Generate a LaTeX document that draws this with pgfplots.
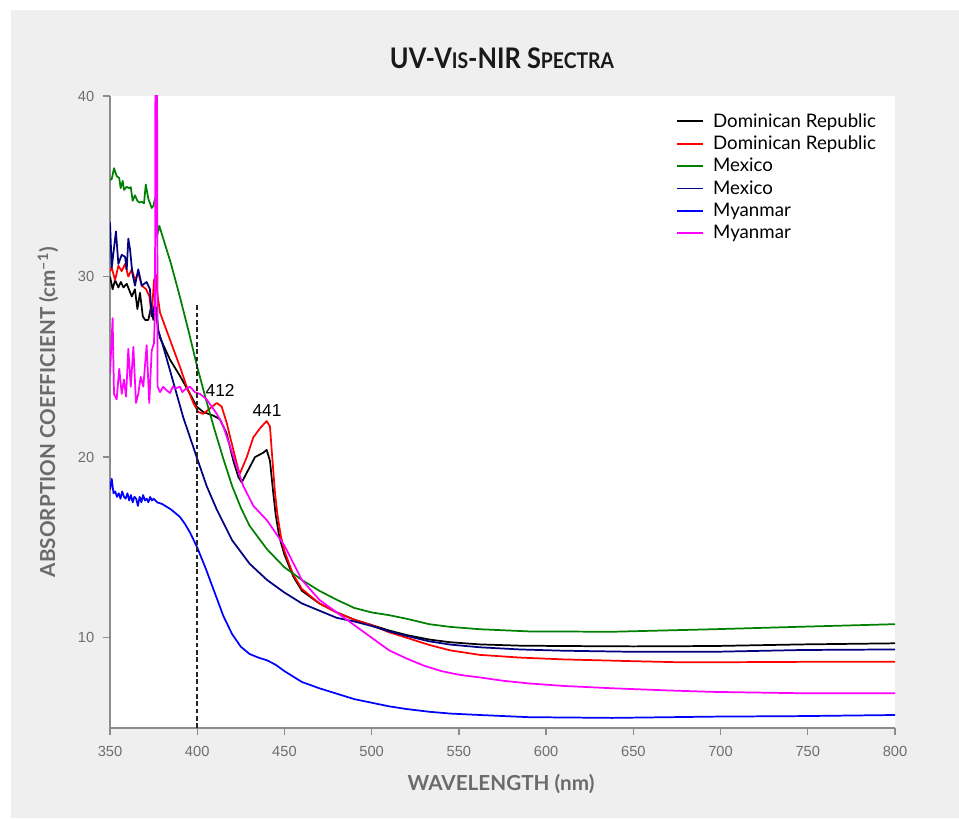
\documentclass[border=0pt]{standalone}
\usepackage{fontspec}
\setmainfont{Liberation Sans}
\newfontfamily\lato{Lato}
\usepackage{pgfplots}
\pgfplotsset{compat=1.18}
\definecolor{panel}{HTML}{EFEFEF}
\definecolor{axisgray}{HTML}{8C8C8C}
\definecolor{tickgray}{HTML}{6E6E6E}
\definecolor{labelgray}{HTML}{6B6B6B}
\definecolor{mxgreen}{HTML}{008000}
\definecolor{mxnavy}{HTML}{000080}
\definecolor{mymag}{HTML}{FF00FF}
\definecolor{myblue}{HTML}{0000FF}
\definecolor{dred}{HTML}{FF0000}
\begin{document}
\begin{tikzpicture}
\fill[white] (0,0) rectangle (719.25pt,613.5pt);
\fill[panel] (8.25pt,0) rectangle (719.25pt,606pt);
\node[font=\lato\bfseries\fontsize{19}{21}\selectfont, text=black!90, yscale=1.12] at (376.5pt,570pt) {UV-V{\fontsize{14.5}{16}\selectfont IS}-NIR S{\fontsize{14.5}{16}\selectfont PECTRA}};
\node[font=\lato\bfseries\fontsize{15.5}{18}\selectfont, text=labelgray] at (375.75pt,25.5pt) {WAVELENGTH (nm)};
\node[font=\lato\bfseries\fontsize{15.5}{18}\selectfont, text=labelgray, rotate=90] at (36pt,304.5pt) {ABSORPTION COEFFICIENT (cm\textsuperscript{–1})};
\begin{axis}[
  at={(82.5pt,67.5pt)}, anchor=south west,
  scale only axis, width=588.75pt, height=474pt,
  xmin=350, xmax=800, ymin=5, ymax=40,
  axis lines*=left,
  axis line style={axisgray, line width=1.1pt},
  tick style={axisgray, line width=1pt},
  major tick length=5.25pt, tick align=outside,
  xtick={350,400,...,800}, ytick={10,20,30,40},
  axis background/.style={fill=white},
  /pgf/number format/assume math mode=true,
  /pgf/number format/1000 sep={},
  tick label style={font=\fontsize{11}{13}\selectfont, text=tickgray},
  xticklabel style={yshift=-5pt},
  yticklabel style={xshift=-3pt},
  legend style={at={(0.721,0.973)}, anchor=north west, draw=none, fill=none,
    font=\lato\fontsize{14}{16}\selectfont, row sep=5.05pt, column sep=6.75pt,
    inner sep=0pt, nodes={inner sep=0pt}},
  legend cell align=left,
  legend image code/.code={\draw[#1, line width=1.4pt] (0pt,0pt) -- (19.5pt,0pt);},
  every axis plot/.append style={line width=1.3pt, line join=round},
]
\addplot[black] coordinates {(350,30.0)(351.5,29.3)(352.9,29.8)(354.8,29.4)(356.2,29.7)(357.7,29.4)(359.6,29.6)(362.5,28.9)(364.3,29.3)(365.7,28.2)(367.2,29.1)(368.8,27.8)(370.1,27.6)(372,27.6)(373.9,28.5)(374.8,27.6)(376.4,28.3)(377.7,27.0)(378.7,26.6)(384.4,25.4)(390.1,24.5)(395.9,23.5)(399.7,22.8)(403.5,22.5)(409.2,22.3)(413,22.1)(416.9,21.3)(420.7,19.8)(423.6,18.9)(425.5,18.6)(429.3,19.3)(433.1,20.0)(437.9,20.25)(439.8,20.4)(441.7,19.8)(443.6,18.0)(445,16.8)(447,15.6)(450,14.6)(455,13.4)(460,12.6)(470,11.9)(480,11.4)(490,11.0)(500,10.7)(510,10.4)(520,10.15)(533,9.9)(545,9.75)(562,9.63)(585,9.56)(610,9.54)(650,9.52)(696,9.54)(747,9.63)(800,9.69)};
\addlegendentry{Dominican Republic}
\addplot[dred] coordinates {(350,30.3)(351,30.5)(352.9,29.8)(354.8,30.6)(356.7,30.3)(358.6,30.7)(360.5,30.0)(362.5,30.4)(364.3,29.8)(366.2,30.2)(368.2,29.5)(370.7,29.3)(372.6,28.9)(373.9,27.8)(375.2,29.8)(376.4,30.1)(377.1,29.1)(378.7,28.0)(384.4,26.5)(390.1,25.0)(394,23.9)(397.8,23.0)(400.6,22.5)(403.5,22.4)(407.3,22.7)(411.2,23.0)(414,22.8)(416.9,21.9)(420.7,20.4)(423.6,19.3)(424.5,19.1)(428.4,20.0)(432.2,21.1)(436,21.6)(439.8,22.0)(441.7,21.7)(443,20.0)(444.6,18.0)(446,16.8)(448,15.6)(450,14.8)(455,13.5)(460,12.7)(470,11.9)(480,11.4)(490,11.0)(500,10.7)(510,10.3)(520,10.0)(533,9.6)(545,9.3)(562,9.05)(585,8.9)(610,8.8)(650,8.7)(677,8.64)(720,8.65)(760,8.67)(800,8.67)};
\addlegendentry{Dominican Republic}
\addplot[mxgreen] coordinates {(350,35.35)(351,35.4)(352.3,36.0)(353.8,35.57)(355.3,35.45)(356.1,34.9)(357.3,35.3)(358,34.8)(359.6,34.97)(360.9,34.9)(361.9,34.95)(363,34.2)(364.3,34.5)(365.7,34.2)(366.8,34.1)(368.2,34.15)(369.5,34.05)(370.5,35.1)(372,34.3)(373.9,33.8)(374.8,33.9)(375.8,34.3)(376.8,34.5)(377.1,32.3)(378.3,32.8)(385,30.7)(390,28.9)(395,27.0)(400,25.0)(405,23.2)(410,21.5)(415,19.9)(420,18.4)(425,17.2)(430,16.2)(440,14.9)(450,13.9)(460,13.2)(470,12.6)(480,12.1)(490,11.65)(500,11.4)(510,11.25)(520,11.05)(533,10.75)(545,10.6)(562,10.47)(590,10.35)(638,10.33)(696,10.47)(747,10.61)(800,10.75)};
\addlegendentry{Mexico}
\addplot[mxnavy] coordinates {(350,33.0)(351,30.5)(353.4,32.5)(354.8,30.7)(356.7,31.2)(358.6,31.1)(359.6,30.4)(360.5,32.1)(361.5,31.5)(362.8,30.2)(364.3,29.5)(366.2,30.4)(368.2,29.5)(371,29.7)(372.9,29.3)(373.9,27.8)(375.8,28.5)(377.7,27.0)(380,26.3)(384.4,24.8)(392,22.2)(399.7,20.0)(405.4,18.4)(411.2,17.1)(420,15.4)(430,14.1)(440,13.2)(450,12.5)(460,11.9)(470,11.5)(480,11.1)(490,10.9)(500,10.65)(510,10.35)(520,10.1)(533,9.8)(545,9.62)(562,9.47)(585,9.35)(610,9.28)(650,9.22)(696,9.22)(747,9.32)(800,9.35)};
\addlegendentry{Mexico}
\addplot[myblue] coordinates {(350,18.2)(351,18.8)(352,18.0)(353,18.1)(354,17.8)(355,18.0)(356,17.7)(357,18.1)(358,17.8)(359,17.7)(360,18.0)(361,17.6)(362,17.9)(363,17.5)(364,17.8)(365,17.7)(366,17.3)(367,17.8)(368,17.5)(369,17.9)(370,17.6)(371,17.7)(372,17.5)(373,17.8)(374,17.6)(375,17.7)(377,17.5)(380,17.4)(385,17.1)(390,16.7)(393,16.3)(396,15.8)(400,15.0)(405,13.8)(410,12.5)(415,11.2)(420,10.2)(425,9.5)(430,9.1)(435,8.9)(440,8.75)(445,8.5)(450,8.15)(460,7.55)(470,7.2)(480,6.9)(490,6.6)(500,6.4)(510,6.2)(520,6.05)(533,5.9)(545,5.8)(562,5.72)(590,5.6)(638,5.56)(696,5.63)(747,5.66)(800,5.72)};
\addlegendentry{Myanmar}
\addplot[mymag] coordinates {(350,24.6)(351.5,27.7)(352.3,23.5)(353.8,23.2)(355.3,24.9)(356.7,23.5)(358,24.3)(359.2,23.35)(360.5,26.0)(361.9,23.9)(363.4,26.1)(364.9,23.0)(366.2,23.5)(367.6,24.45)(369.1,23.9)(371,26.2)(372.5,23.0)(373.9,25.9)(375.2,26.3)(375.8,28.1)(376.1,45)(376.9,45)(377.3,23.9)(378.7,23.6)(380.5,23.9)(382.5,23.7)(384.4,23.55)(386,23.9)(387.3,23.8)(390.1,23.9)(391.5,23.6)(393,23.75)(395.9,23.9)(398.7,23.6)(401.6,23.5)(405.4,23.2)(408.3,22.8)(411.2,22.4)(415,21.7)(418.8,20.6)(422.6,19.5)(426.4,18.4)(432.2,17.3)(440,16.5)(450,15.1)(460,13.2)(470,12.1)(480,11.4)(490,10.7)(500,10.0)(510,9.3)(520,8.85)(530,8.45)(540,8.15)(550,7.95)(562,7.8)(575,7.62)(590,7.47)(610,7.33)(638,7.2)(670,7.08)(696,7.0)(750,6.92)(800,6.92)};
\addlegendentry{Myanmar}
\addplot[black!85, line width=1.2pt, dash pattern=on 3.5pt off 2pt, forget plot] coordinates {(400,5) (400,28.4)};
\node[font=\fontsize{13}{15}\selectfont] at (axis cs:413.1,23.72) {412};
\node[font=\fontsize{13}{15}\selectfont] at (axis cs:440.0,22.56) {441};
\end{axis}
\end{tikzpicture}
\end{document}
